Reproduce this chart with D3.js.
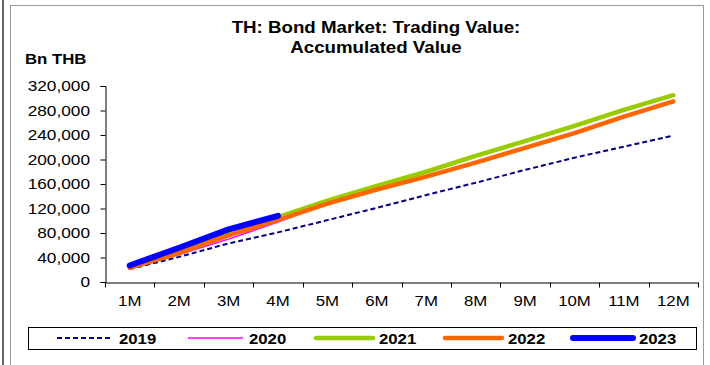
<!DOCTYPE html>
<html>
<head>
<meta charset="utf-8">
<script src="https://cdn.jsdelivr.net/npm/d3@7"></script>
<style>
  html, body { margin: 0; padding: 0; background: #fff; }
  svg { display: block; font-family: "Liberation Sans", Arial, sans-serif; }
</style>
</head>
<body>
<svg id="chart" width="710" height="365"></svg>
<script>
// Months of the year (cumulative)
const months = ["1M","2M","3M","4M","5M","6M","7M","8M","9M","10M","11M","12M"];
const yTicks = [0, 40000, 80000, 120000, 160000, 200000, 240000, 280000, 320000];

// Accumulated trading value, Bn THB
const v2019 = [21000, 41000, 63000, 81000, 101000, 121000, 142000, 162000, 183000, 203000, 221000, 239000];
const v2020 = [23000, 45000, 70000, 98000, 128000, 155000, 178000, 205000, 229000, 254000, 280000, 306000];
const v2021 = [25000, 50000, 80000, 106000, 133000, 157000, 180000, 206000, 230000, 255000, 281000, 305000];
const v2022 = [23000, 47000, 76000, 101000, 128000, 151000, 172000, 195000, 219000, 243000, 270000, 295000];
const v2023 = [27000, 56000, 86000, 108000];

const seriesNames = ["2019", "2020", "2021", "2022", "2023"];
const seriesValues = [v2019, v2020, v2021, v2022, v2023];
const seriesColors = ["#000080", "#ff00ff", "#99cc00", "#ff6600", "#0000ff"];
const seriesWidths = [2, 1.5, 4.5, 4.5, 6];
const seriesDash = ["5,3", null, null, null, null];

// Text in this chart is set slightly wide
function widen(sx) {
  return sel => sel.each(function () {
    const t = d3.select(this);
    const tx = +t.attr("x") || 0, ty = +t.attr("y") || 0;
    t.attr("x", 0).attr("y", 0)
     .attr("transform", `translate(${tx},${ty}) scale(${sx},1)`);
  });
}

const svg = d3.select("#chart");

// Frame
svg.append("line").attr("x1", 3).attr("x2", 3).attr("y1", 0).attr("y2", 365)
  .attr("stroke", "#333").attr("stroke-width", 1.5);
svg.append("rect").attr("x", 10.5).attr("y", 5.5).attr("width", 693).attr("height", 370)
  .attr("fill", "none").attr("stroke", "#999").attr("stroke-width", 1);

// Title
svg.selectAll(".title").data(["TH: Bond Market: Trading Value:", "Accumulated Value"])
  .enter().append("text").attr("class", "title")
  .attr("x", 376).attr("y", (d, i) => 33 + i * 20)
  .attr("text-anchor", "middle").attr("font-weight", "bold")
  .attr("font-size", 17).attr("fill", "#000").text(d => d)
  .call(widen(1.1));

svg.append("text").attr("x", 25).attr("y", 64).attr("font-weight", "bold")
  .attr("font-size", 15.5).text("Bn THB").call(widen(1.08));

// Scales
const x = d3.scaleBand().domain(months).range([105, 698]);
const y = d3.scaleLinear().domain([0, 320000]).range([282, 86]);

// Axes
const yAxis = d3.axisLeft(y).tickValues(yTicks).tickSize(5).tickPadding(10.5)
  .tickFormat(d3.format(","));
const gy = svg.append("g").attr("transform", "translate(105.5,0)").call(yAxis);
gy.attr("font-family", null).attr("font-size", null);
gy.select(".domain").attr("stroke", "#000");
gy.selectAll(".tick line").attr("stroke", "#000");
gy.selectAll("text").attr("font-size", 15).attr("fill", "#000").call(widen(1.15));

const xAxis = d3.axisBottom(x).tickSize(0).tickPadding(13).tickSizeOuter(0);
const gx = svg.append("g").attr("transform", "translate(0,282.5)").call(xAxis);
gx.attr("font-family", null).attr("font-size", null);
gx.select(".domain").attr("stroke", "#000");
gx.selectAll("text").attr("font-size", 15).attr("fill", "#000").call(widen(1.12));
// Category separator ticks below the axis
const bounds = months.map(m => x(m)).concat([x.range()[1]]);
gx.selectAll(".sep").data(bounds).enter().append("line")
  .attr("class", "sep")
  .attr("x1", d => Math.round(d) + 0.5).attr("x2", d => Math.round(d) + 0.5)
  .attr("y1", 0).attr("y2", 5).attr("stroke", "#000");

// Lines
const line = d3.line()
  .x((d, i) => x(months[i]) + x.bandwidth() / 2)
  .y(d => y(d));

seriesValues.forEach((vals, i) => {
  svg.append("path").datum(vals)
    .attr("d", line)
    .attr("fill", "none")
    .attr("stroke", seriesColors[i])
    .attr("stroke-width", seriesWidths[i])
    .attr("stroke-linecap", i >= 2 ? "round" : "butt")
    .attr("stroke-linejoin", "round")
    .attr("stroke-dasharray", seriesDash[i]);
});

// Legend
svg.append("rect").attr("x", 28.5).attr("y", 327.5).attr("width", 668).attr("height", 22)
  .attr("fill", "#fff").attr("stroke", "#000").attr("stroke-width", 1);
const legendX = [57, 188, 316, 445, 573];
const legendLen = [56, 55, 57, 57, 60];
seriesNames.forEach((name, i) => {
  svg.append("line")
    .attr("x1", legendX[i]).attr("x2", legendX[i] + legendLen[i])
    .attr("y1", 338).attr("y2", 338)
    .attr("stroke", seriesColors[i])
    .attr("stroke-width", seriesWidths[i])
    .attr("stroke-linecap", i >= 2 ? "round" : "butt")
    .attr("stroke-dasharray", seriesDash[i]);
  svg.append("text")
    .attr("x", legendX[i] + legendLen[i] + 6).attr("y", 343.5)
    .attr("font-weight", "bold").attr("font-size", 15.5).attr("fill", "#000")
    .text(name).call(widen(1.08));
});
</script>
</body>
</html>
